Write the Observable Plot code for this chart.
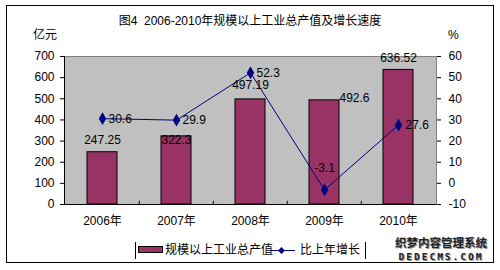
<!DOCTYPE html>
<html><head><meta charset="utf-8">
<script src="https://cdn.jsdelivr.net/npm/d3@7"></script>
<script src="https://cdn.jsdelivr.net/npm/@observablehq/plot@0.6"></script>
<style>
body{margin:0;background:#fff;width:500px;height:270px;overflow:hidden;position:relative;font-family:"Liberation Sans","Noto Sans CJK SC",sans-serif}
#frame{position:absolute;left:6px;top:5px;width:488px;height:258px;border:1px solid #000;box-sizing:border-box}
.t{position:absolute;font-size:12px;white-space:pre;line-height:12px;color:#000;font-family:"Liberation Sans","Noto Sans CJK SC",sans-serif}
#chart{position:absolute;left:0;top:0}
#legend{position:absolute;left:135px;top:242px;width:231px;height:17px;border-left:1px solid #000;border-right:1px solid #000;box-sizing:border-box}
#wmbg{position:absolute;left:390px;top:236px;width:102px;height:26px;background:#fff}
.wm{position:absolute;left:390px;width:102px;text-align:center;color:#222;text-shadow:1px 1px 0 #999;white-space:nowrap}
</style></head><body>
<div id="frame"></div>
<div id="chart"></div>
<div class="t" style="left:0;width:500px;text-align:center;top:15px">图4  2006-2010年规模以上工业总产值及增长速度</div>
<div class="t" style="left:33px;top:29px">亿元</div>
<div class="t" style="left:448px;top:29px">%</div>
<div id="legend"></div>
<div style="position:absolute;left:138px;top:246px;width:25px;height:7px;background:#993366;border:1px solid #000;box-sizing:border-box"></div>
<div class="t" style="left:165px;top:244px">规模以上工业总产值</div>
<div style="position:absolute;left:269px;top:250px;width:26px;height:1px;background:#000080"></div>
<div style="position:absolute;left:279px;top:248px;width:5px;height:5px;background:#000080;transform:rotate(45deg)"></div>
<div class="t" style="left:300px;top:244px">比上年增长</div>
<div id="wmbg"></div>
<div class="wm" style="top:236px;font-family:'Noto Sans CJK SC';font-weight:bold;font-size:11.5px;line-height:12px">织梦内容管理系统</div>
<div class="wm" style="top:252px;font-family:'DejaVu Sans Mono';font-weight:bold;font-size:9.5px;line-height:10px;letter-spacing:2px">DEDECMS.COM</div>
<script>
const years = ["2006年", "2007年", "2008年", "2009年", "2010年"];
const outputValue = [247.25, 322.3, 497.19, 492.6, 636.52];   // 亿元
const growthRate = [30.6, 29.9, 52.3, -3.1, 27.6];             // %
const leftTicks = [0, 100, 200, 300, 400, 500, 600, 700];
const rightTicks = [-10, 0, 10, 20, 30, 40, 50, 60];

// right axis (%) mapped linearly onto left axis domain: -10..60 -> 0..700
const toLeft = p => (p + 10) * 10;
const fromLeft = v => Math.round(v / 10 - 10);

const rows = years.map((year, i) => ({year, i, output: outputValue[i], growth: growthRate[i], g: toLeft(growthRate[i])}));

// label placement (layout only)
const barLabelOffsets = [[0, -12], [0, 4], [0, -14], [30, -2], [0, -12]];
const lineLabelOffsets = [[6, 0, "start"], [6, 0, "start"], [6, 0, "start"], [0, -22, "middle"], [7, 0, "start"]];

const W = 500, ML = 64, MR = 64;
const step = (W - ML - MR) / years.length;

const barLabelMarks = rows.map((r, i) => Plot.text([r], {
  x: "year", y: "output", text: d => String(d.output),
  dx: barLabelOffsets[i][0], dy: barLabelOffsets[i][1], fill: "#000", fontSize: 12
}));
const lineLabelMarks = rows.map((r, i) => Plot.text([r], {
  x: "year", y: "g", text: d => String(d.growth),
  dx: lineLabelOffsets[i][0], dy: lineLabelOffsets[i][1], textAnchor: lineLabelOffsets[i][2], fill: "#000", fontSize: 12
}));

const chart = Plot.plot({
  width: W, height: 240,
  marginLeft: ML, marginRight: MR, marginTop: 56, marginBottom: 36,
  style: {fontFamily: "'Liberation Sans','Noto Sans CJK SC',sans-serif", fontSize: "12px", color: "#000", background: "transparent", overflow: "visible"},
  x: {type: "band", domain: years, paddingInner: 0.6, paddingOuter: 0.3},
  y: {domain: [0, 700]},
  marks: [
    Plot.frame({fill: "#c0c0c0", stroke: "#808080"}),
    Plot.barY(rows, {x: "year", y: "output", fill: "#993366", stroke: "#000", strokeWidth: 1}),
    Plot.line(rows, {x: "year", y: "g", stroke: "#000080", strokeWidth: 1}),
    Plot.dot(rows, {x: "year", y: "g", symbol: "diamond", fill: "#000080", stroke: "#000080", r: 3}),
    ...barLabelMarks,
    ...lineLabelMarks,
    Plot.ruleY([0], {stroke: "#000"}),
    Plot.frame({anchor: "left", stroke: "#000"}),
    Plot.ruleX(years.slice(1), {y1: 0, y2: 15, dx: -step / 2, stroke: "#000"}),
    Plot.axisY({ticks: leftTicks, anchor: "left", tickSize: 4, tickPadding: 6, label: null}),
    Plot.axisY({ticks: rightTicks.map(toLeft), tickFormat: fromLeft, anchor: "right", tickSize: 4, tickPadding: 8, label: null, textAnchor: "start"}),
    Plot.axisX({tickSize: 0, tickPadding: 12, label: null})
  ]
});
document.getElementById("chart").appendChild(chart);
</script>
</body></html>
